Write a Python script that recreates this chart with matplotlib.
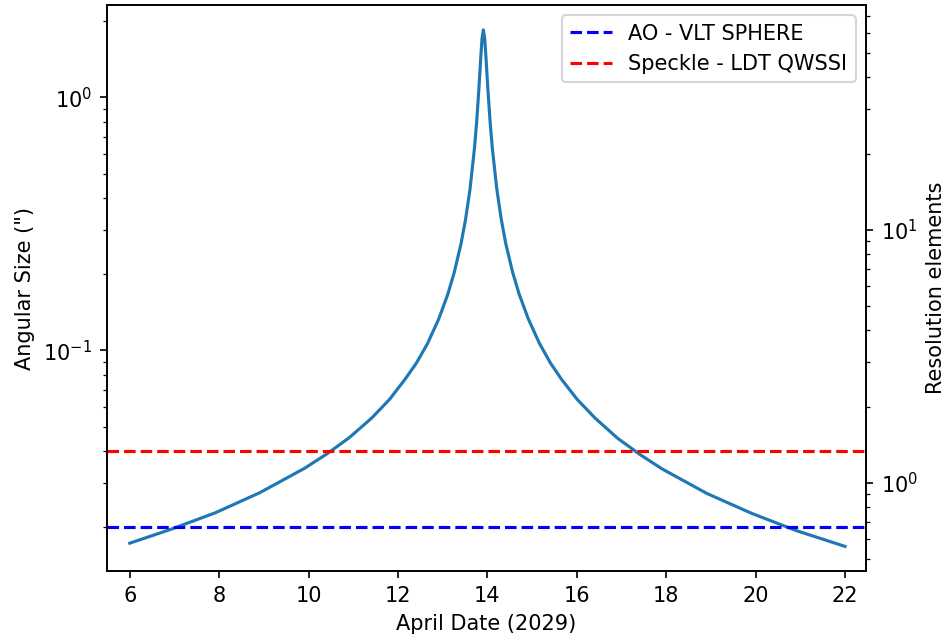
# Angular size of the asteroid around the April 2029 close approach

import numpy as np
import matplotlib
matplotlib.use('Agg')
import matplotlib.pyplot as plt

# Values (April date, angular size in arcsec)
dates = [6.0, 6.91, 7.91, 8.91, 9.91, 10.41, 10.91, 11.41, 11.81, 12.16,
         12.41, 12.66, 12.91, 13.11, 13.26, 13.41, 13.51, 13.61, 13.71,
         13.76, 13.81, 13.85, 13.88, 13.91,
         13.94, 13.97, 14.01, 14.06, 14.11, 14.21, 14.31, 14.41, 14.56,
         14.71, 14.91, 15.16, 15.41, 15.66, 16.01, 16.41, 16.91, 17.41,
         17.91, 18.91, 19.91, 20.91, 22.0]
ang_size = [0.0173, 0.0196, 0.0228, 0.0274, 0.0342, 0.0390, 0.0452, 0.054,
            0.064, 0.077, 0.089, 0.1064, 0.1329, 0.1658, 0.2037, 0.264,
            0.328, 0.432, 0.627, 0.800, 1.081, 1.421, 1.708, 1.85,
            1.71, 1.425, 1.085, 0.805, 0.631, 0.435, 0.330, 0.265, 0.205,
            0.167, 0.134, 0.107, 0.0892, 0.0768, 0.0640, 0.0540, 0.0450,
            0.0388, 0.0340, 0.0272, 0.0227, 0.0194, 0.0168]

# instrument resolution limits (arcsec)
res_ao = 0.02
res_speckle = 0.04
res_elem = 0.03   # scale used for the right axis

fig = plt.figure(figsize=(947/150, 641/150), dpi=150)
ax = fig.add_axes([0.1127, 0.1092, 0.9145-0.1127, 0.9922-0.1092])

ax.plot(dates, ang_size)
ax.axhline(res_ao, color='b', ls='--', label='AO - VLT SPHERE')
ax.axhline(res_speckle, color='r', ls='--', label='Speckle - LDT QWSSI')
ax.set_yscale('log')
ax.set_xlim(5.485, 22.47)
ax.set_ylim(0.01343, 2.32)
ax.set_xlabel('April Date (2029)')
ax.set_ylabel('Angular Size (")')
ax.legend(loc='upper right')

# right axis: resolution elements
ax2 = ax.twinx()
ax2.set_yscale('log')
lo, hi = ax.get_ylim()
ax2.set_ylim(lo/res_elem, hi/res_elem)
ax2.set_ylabel('Resolution elements')

fig.savefig('out.png', dpi=150)
